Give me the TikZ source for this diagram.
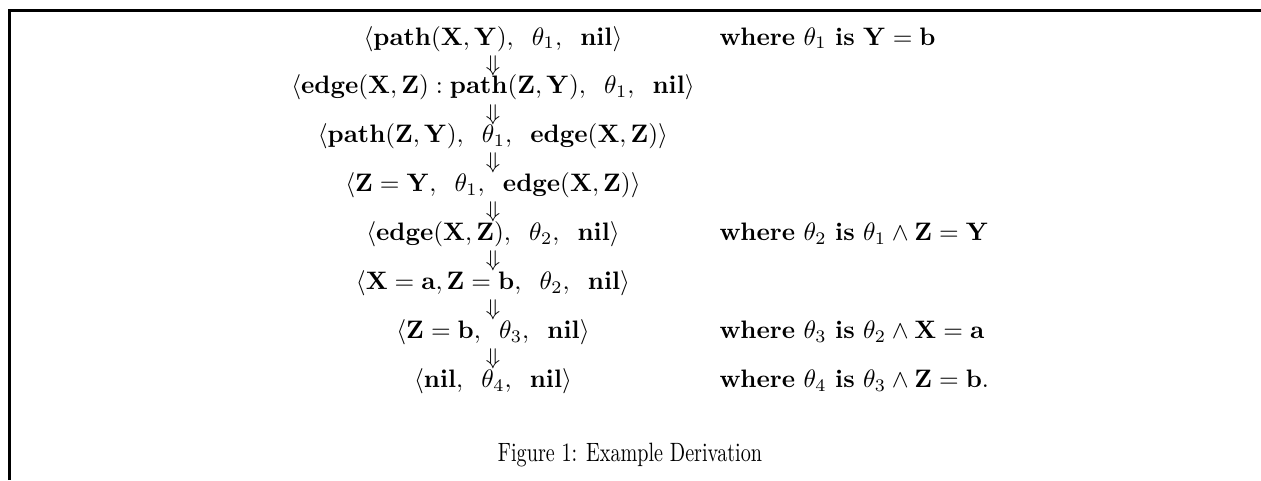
\documentclass[tikz,border=0pt]{standalone}
\begin{document}
\begin{tikzpicture}[x=0.396pt,y=-0.396pt,
  row/.style={anchor=base,inner sep=0pt,font=\fontsize{10}{12}\selectfont},
  wh/.style={anchor=base west,inner sep=0pt,font=\fontsize{10}{12}\selectfont},
  arr/.style={anchor=center,inner sep=0pt,font=\fontsize{9}{11}\selectfont},
  capt/.style={anchor=base,inner sep=0pt,font=\fontsize{10.5}{12}\selectfont},
  frame/.style={line width=1.2pt}]
\useasboundingbox (0,0) rectangle (1261,480);
\draw[frame] (9.5,480) -- (9.5,10.5) -- (1261,10.5);
\def\cx{493}
\def\wx{719}
\def\g{\;\;}
\node[row] (r1) at (\cx,45) {$\langle\mathbf{path(X},\mathbf{Y)},\g\theta_1,\g\mathbf{nil}\rangle$};
\node[arr] (a1) at (\cx,65.5) {$\Downarrow$};
\node[row] (r2) at (\cx,93.9) {$\langle\mathbf{edge(X},\mathbf{Z)}:\mathbf{path(Z},\mathbf{Y)},\g\theta_1,\g\mathbf{nil}\rangle$};
\node[arr] (a2) at (\cx,114.4) {$\Downarrow$};
\node[row] (r3) at (\cx,142.8) {$\langle\mathbf{path(Z},\mathbf{Y)},\g\theta_1,\g\mathbf{edge(X},\mathbf{Z)}\rangle$};
\node[arr] (a3) at (\cx,163.3) {$\Downarrow$};
\node[row] (r4) at (\cx,191.7) {$\langle\mathbf{Z}=\mathbf{Y},\g\theta_1,\g\mathbf{edge(X},\mathbf{Z)}\rangle$};
\node[arr] (a4) at (\cx,212.2) {$\Downarrow$};
\node[row] (r5) at (\cx,240.6) {$\langle\mathbf{edge(X},\mathbf{Z)},\g\theta_2,\g\mathbf{nil}\rangle$};
\node[arr] (a5) at (\cx,261.1) {$\Downarrow$};
\node[row] (r6) at (\cx,289.5) {$\langle\mathbf{X}=\mathbf{a},\mathbf{Z}=\mathbf{b},\g\theta_2,\g\mathbf{nil}\rangle$};
\node[arr] (a6) at (\cx,310) {$\Downarrow$};
\node[row] (r7) at (\cx,338.4) {$\langle\mathbf{Z}=\mathbf{b},\g\theta_3,\g\mathbf{nil}\rangle$};
\node[arr] (a7) at (\cx,358.9) {$\Downarrow$};
\node[row] (r8) at (\cx,387.3) {$\langle\mathbf{nil},\g\theta_4,\g\mathbf{nil}\rangle$};
\node[wh] (w1) at (\wx,45) {\textbf{where} $\theta_1$ \textbf{is} $\mathbf{Y}=\mathbf{b}$};
\node[wh] (w5) at (\wx,240.6) {\textbf{where} $\theta_2$ \textbf{is} $\theta_1\wedge\mathbf{Z}=\mathbf{Y}$};
\node[wh] (w7) at (\wx,338.4) {\textbf{where} $\theta_3$ \textbf{is} $\theta_2\wedge\mathbf{X}=\mathbf{a}$};
\node[wh] (w8) at (\wx,387.3) {\textbf{where} $\theta_4$ \textbf{is} $\theta_3\wedge\mathbf{Z}=\mathbf{b}$.};
\node[capt] (cap) at (630,461) {\scalebox{0.76}[1]{Figure 1: Example Derivation}};
\end{tikzpicture}
\end{document}
